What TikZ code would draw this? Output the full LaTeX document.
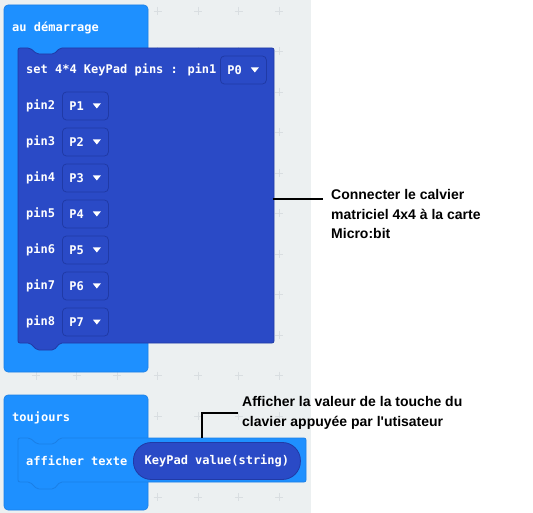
\documentclass[tikz,border=0pt]{standalone}
\usepackage{fontspec}
\usepackage{xcolor,tikz}
\usetikzlibrary{positioning,calc}
\newfontfamily\blockfont{DejaVu Sans Mono}
\newfontfamily\notefont{Liberation Sans}
\definecolor{BlkLight}{HTML}{1E90FF}
\definecolor{BlkLightEdge}{HTML}{1A7FE6}
\definecolor{BlkDark}{HTML}{2A4AC6}
\definecolor{BlkDarkEdge}{HTML}{203AA6}
\definecolor{WorkGray}{HTML}{ECF0F1}
\definecolor{GridMark}{HTML}{D9DEE1}
\tikzset{blocktxt/.style={font=\blockfont\bfseries\fontsize{12}{14}\selectfont,
 text=white,inner sep=0pt},callout/.style={draw=black,line width=2.6pt}}
\begin{document}
\begin{tikzpicture}[x=1pt,y=-1pt,
 outerblk/.style={fill=BlkLight,draw=BlkLightEdge,line width=.6pt,rounded corners=4pt},
 innerblk/.style={line width=.8pt,rounded corners=2pt},
 ddbox/.style={blocktxt,anchor=west,draw=BlkDarkEdge,fill=BlkDark,line width=.8pt,
  rounded corners=4pt,minimum height=28pt,text width=32pt,inner xsep=7pt,align=left},
 pill/.style={blocktxt,anchor=west,draw=BlkDarkEdge,fill=BlkDark,line width=.8pt,
  rounded corners=18pt,minimum height=37pt,minimum width=167pt},
 notetxt/.style={anchor=west,align=left,inner ysep=0pt,text=black,
  font=\notefont\bfseries\fontsize{14}{19.5}\selectfont}]
\useasboundingbox (0,0) rectangle (533,513);
% Workspace with its faint grid of crosses.
\fill[WorkGray] (0,0) rectangle (311,513);
\foreach \i in {0,...,6}
 \foreach \j in {0,...,12}
 {\draw[GridMark,line width=.6pt] ({36+40.5*\i},{11+40.5*\j}) ++(-4,0) -- ++(8,0)
   ++(-4,-4) -- ++(0,8);}
% "au démarrage" block holding the keypad set-up block.
\draw[outerblk] (4,5) rectangle (148,372);
\node[blocktxt,anchor=west] (startlbl) at (12,28) {au démarrage};
\draw[innerblk,fill=BlkDark,draw=BlkDarkEdge] (18,48) -- (30,48) -- (37,54) -- (54,54)
 -- (60,48) -- (274,48) -- (274,343) -- (60,343) -- (54,350) -- (37,350) -- (30,343)
 -- (18,343) -- cycle;
\node[blocktxt,anchor=west] (setlbl) at (26,70) {set 4*4 KeyPad pins : pin1};
\node[ddbox] (dd0) at (220,70) {P0};
\fill[white] ($(dd0.east)+(-16,-2.5)$) -- ++(8,0) -- ++(-4,5) -- cycle;
\foreach \p [evaluate=\p as \k using int(\p+1)] in {1,...,7}
 {\node[blocktxt,anchor=west] (pinlbl\k) at (26,{70+36*\p}) {pin\k};
  \node[ddbox] (dd\p) at (62,{70+36*\p}) {P\p};
  \fill[white] ($(dd\p.east)+(-16,-2.5)$) -- ++(8,0) -- ++(-4,5) -- cycle;}
% "toujours" block with the text display.
\draw[outerblk] (4,395) rectangle (148,510);
\node[blocktxt,anchor=west] (looplbl) at (12,418) {toujours};
\draw[innerblk,fill=BlkLight,draw=BlkLightEdge] (18,438) -- (30,438) -- (37,444)
 -- (54,444) -- (60,438) -- (306,438) -- (306,482) -- (60,482) -- (54,489) -- (37,489)
 -- (30,482) -- (18,482) -- cycle;
\node[blocktxt,anchor=west] (showlbl) at (26,461) {afficher texte};
\node[pill] (readval) at (133,461) {KeyPad value(string)};
% Call-outs.
\coordinate (keyedge) at (273,199);
\node[notetxt,inner xsep=8pt] (keynote) at (323,214)
 {Connecter le calvier\\matriciel 4x4 à la carte\\Micro:bit};
\draw[callout] (keyedge) -- (keyedge -| keynote.west);
\coordinate (showtop) at (202,438);
\node[notetxt,inner xsep=4pt] (shownote) at (238,413)
 {Afficher la valeur de la touche du\\clavier appuyée par l'utisateur};
\draw[callout] (showtop) |- (shownote.west);
\end{tikzpicture}
\end{document}
